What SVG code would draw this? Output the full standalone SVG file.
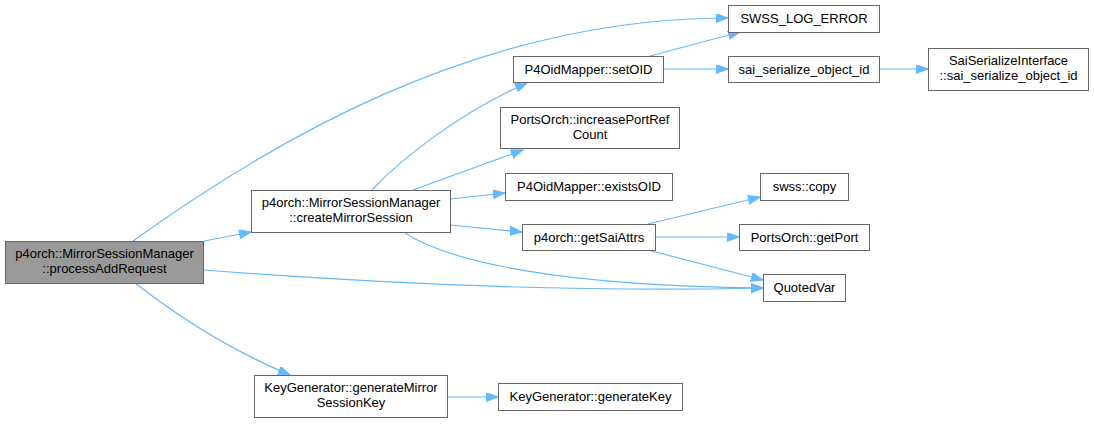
<svg xmlns="http://www.w3.org/2000/svg" width="1094" height="424" viewBox="0 0 1094 424">
<style>
.n rect{fill:#ffffff;stroke:#666666;stroke-width:1}
.n.cur rect{fill:#999999}
.n text{font-family:"Liberation Sans",Arial,sans-serif;font-size:13px;fill:#000000;text-anchor:middle}
#edges path{fill:none;stroke:#63b8ff;stroke-width:1.2;marker-end:url(#ah)}
</style>
<defs>
<marker id="ah" markerUnits="userSpaceOnUse" markerWidth="13" markerHeight="10" refX="12" refY="4.5" orient="auto">
<path d="M0,0 L12,4.5 L0,9 z" fill="#63b8ff" stroke="#63b8ff" stroke-width="1"/>
</marker>
</defs>
<rect width="1094" height="424" fill="#ffffff"/>
<g id="edges">
<path d="M133,241 C260,150 470,18 728,18"/>
<path d="M204,241 L251,232"/>
<path d="M204,270 C400,285 600,292 763,288"/>
<path d="M135,283 C180,318 235,352 290,375"/>
<path d="M372,190 C400,160 460,112 527,83"/>
<path d="M413,190 L523,150"/>
<path d="M450,199 L505,193"/>
<path d="M450,225 L522,232"/>
<path d="M405,233 C450,262 560,286 763,288"/>
<path d="M650,56 L740,32"/>
<path d="M664,69 L728,69"/>
<path d="M880,69 L928,69"/>
<path d="M648,224 L760,197"/>
<path d="M656,237 L739,237"/>
<path d="M648,250 L763,280"/>
<path d="M447,397 L498,397"/>
</g>
<g id="processAddRequest" class="n cur"><rect x="5.5" y="241.5" width="198" height="42"/><text x="104.5" y="258">p4orch::MirrorSessionManager</text><text x="104.5" y="273">::processAddRequest</text></g>
<g id="createMirrorSession" class="n"><rect x="251.5" y="190.5" width="199" height="42"/><text x="351" y="207">p4orch::MirrorSessionManager</text><text x="351" y="222">::createMirrorSession</text></g>
<g id="SWSS_LOG_ERROR" class="n"><rect x="728.5" y="5.5" width="151" height="27"/><text x="804" y="23">SWSS_LOG_ERROR</text></g>
<g id="setOID" class="n"><rect x="513.5" y="56.5" width="150" height="26"/><text x="588.5" y="74">P4OidMapper::setOID</text></g>
<g id="sai_serialize_object_id" class="n"><rect x="728.5" y="56.5" width="151" height="26"/><text x="804" y="74">sai_serialize_object_id</text></g>
<g id="SaiSerializeInterface" class="n"><rect x="928.5" y="48.5" width="160" height="42"/><text x="1008.5" y="65">SaiSerializeInterface</text><text x="1008.5" y="80">::sai_serialize_object_id</text></g>
<g id="increasePortRefCount" class="n"><rect x="500.5" y="107.5" width="179" height="41"/><text x="590" y="124">PortsOrch::increasePortRef</text><text x="590" y="139">Count</text></g>
<g id="existsOID" class="n"><rect x="505.5" y="173.5" width="167" height="27"/><text x="589" y="191">P4OidMapper::existsOID</text></g>
<g id="getSaiAttrs" class="n"><rect x="522.5" y="224.5" width="133" height="26"/><text x="589" y="242">p4orch::getSaiAttrs</text></g>
<g id="copy" class="n"><rect x="760.5" y="173.5" width="88" height="27"/><text x="804.5" y="191">swss::copy</text></g>
<g id="getPort" class="n"><rect x="739.5" y="224.5" width="130" height="26"/><text x="804.5" y="242">PortsOrch::getPort</text></g>
<g id="QuotedVar" class="n"><rect x="763.5" y="274.5" width="82" height="27"/><text x="804.5" y="292">QuotedVar</text></g>
<g id="generateMirrorSessionKey" class="n"><rect x="254.5" y="375.5" width="193" height="42"/><text x="351" y="392">KeyGenerator::generateMirror</text><text x="351" y="407">SessionKey</text></g>
<g id="generateKey" class="n"><rect x="498.5" y="383.5" width="184" height="27"/><text x="590.5" y="401">KeyGenerator::generateKey</text></g>
</svg>
